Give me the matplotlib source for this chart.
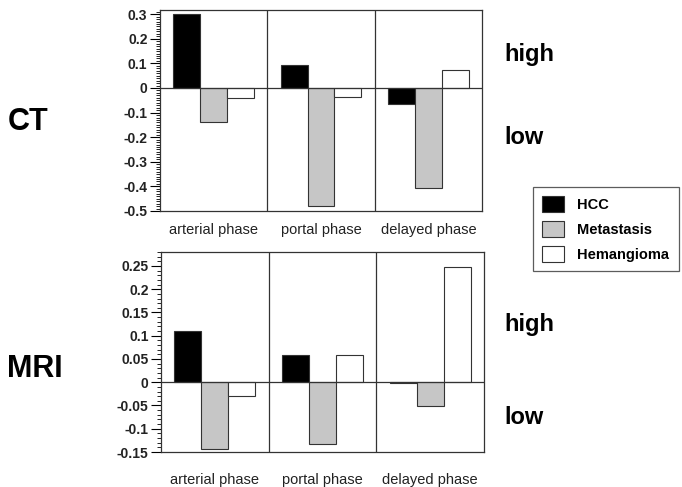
import numpy as np
import matplotlib
matplotlib.use('Agg')
import matplotlib.pyplot as plt
from matplotlib.patches import Patch
from matplotlib.ticker import MultipleLocator

plt.rcParams['font.family'] = ['Liberation Sans', 'DejaVu Sans']

phases = ['arterial phase', 'portal phase', 'delayed phase']
series = ['HCC', 'Metastasis', 'Hemangioma']
colors = ['#000000', '#c6c6c6', '#ffffff']

# values, one list per series
ct_hcc = [0.30, 0.095, -0.065]
ct_meta = [-0.14, -0.48, -0.405]
ct_hem = [-0.04, -0.035, 0.075]

mri_hcc = [0.11, 0.058, -0.002]
mri_meta = [-0.143, -0.132, -0.052]
mri_hem = [-0.03, 0.058, 0.248]

ct_ticks = [0.3, 0.2, 0.1, 0, -0.1, -0.2, -0.3, -0.4, -0.5]
mri_ticks = [0.25, 0.2, 0.15, 0.1, 0.05, 0, -0.05, -0.1, -0.15]

W, H = 682, 487
fig = plt.figure(figsize=(W / 100, H / 100), dpi=100)


def px_axes(x0, y0, x1, y1):
    # convert pixel box (top-left origin) to figure fraction
    return fig.add_axes([x0 / W, 1 - y1 / H, (x1 - x0) / W, (y1 - y0) / H])


def draw_panel(ax, vals, ticks, ylim, label_pad):
    x = np.arange(len(phases)) + 0.5
    width = 0.25
    for i, v in enumerate(vals):
        ax.bar(x + (i - 1) * width, v, width, color=colors[i],
               edgecolor='#333333', linewidth=0.8, zorder=2)
    ax.set_xlim(0, 3)
    ax.set_ylim(*ylim)
    ax.axhline(0, color='#333333', linewidth=0.9, zorder=3)
    for xv in [1, 2]:
        ax.axvline(xv, color='#333333', linewidth=0.9, zorder=3)
    ax.set_xticks([])
    ax.set_yticks(ticks)
    ax.set_yticklabels(['{:g}'.format(t) for t in ticks], fontweight='bold',
                       fontsize=10, color='#222222')
    ax.yaxis.set_minor_locator(MultipleLocator(0.01))
    ax.tick_params(axis='y', which='major', length=7, width=0.8, pad=2)
    ax.tick_params(axis='y', which='minor', length=3, width=0.6)
    for s in ax.spines.values():
        s.set_linewidth(0.9)
        s.set_color('#333333')
    for xi, name in zip(x, phases):
        ax.text(xi, label_pad, name, transform=ax.get_xaxis_transform(),
                ha='center', va='center', fontsize=10.5, color='#222222')


ax1 = px_axes(160, 10, 482, 211)
draw_panel(ax1, [ct_hcc, ct_meta, ct_hem], ct_ticks, (-0.5, 0.317), -0.095)

ax2 = px_axes(161, 252, 484, 452)
draw_panel(ax2, [mri_hcc, mri_meta, mri_hem], mri_ticks, (-0.15, 0.28), -0.14)

fig.text(8 / W, 1 - 122 / H, 'CT', fontsize=22, fontweight='bold', ha='left', va='center')
fig.text(7 / W, 1 - 369 / H, 'MRI', fontsize=22, fontweight='bold', ha='left', va='center')
for y, t in [(55, 'high'), (137, 'low'), (325, 'high'), (418, 'low')]:
    fig.text(504 / W, 1 - y / H, t, fontsize=17, fontweight='bold', ha='left', va='center')

handles = [Patch(facecolor=c, edgecolor='#333333', linewidth=0.8) for c in colors]
leg = fig.legend(handles, series, loc='upper left', bbox_to_anchor=(533 / W, 1 - 187 / H),
                 borderaxespad=0, frameon=True, fancybox=False, handlelength=1.5,
                 handleheight=1.3, handletextpad=0.9, borderpad=0.65, labelspacing=0.6,
                 prop={'weight': 'bold', 'size': 10.5})
leg.get_frame().set_edgecolor('#333333')
leg.get_frame().set_linewidth(0.9)

fig.savefig('out.png', dpi=100)
